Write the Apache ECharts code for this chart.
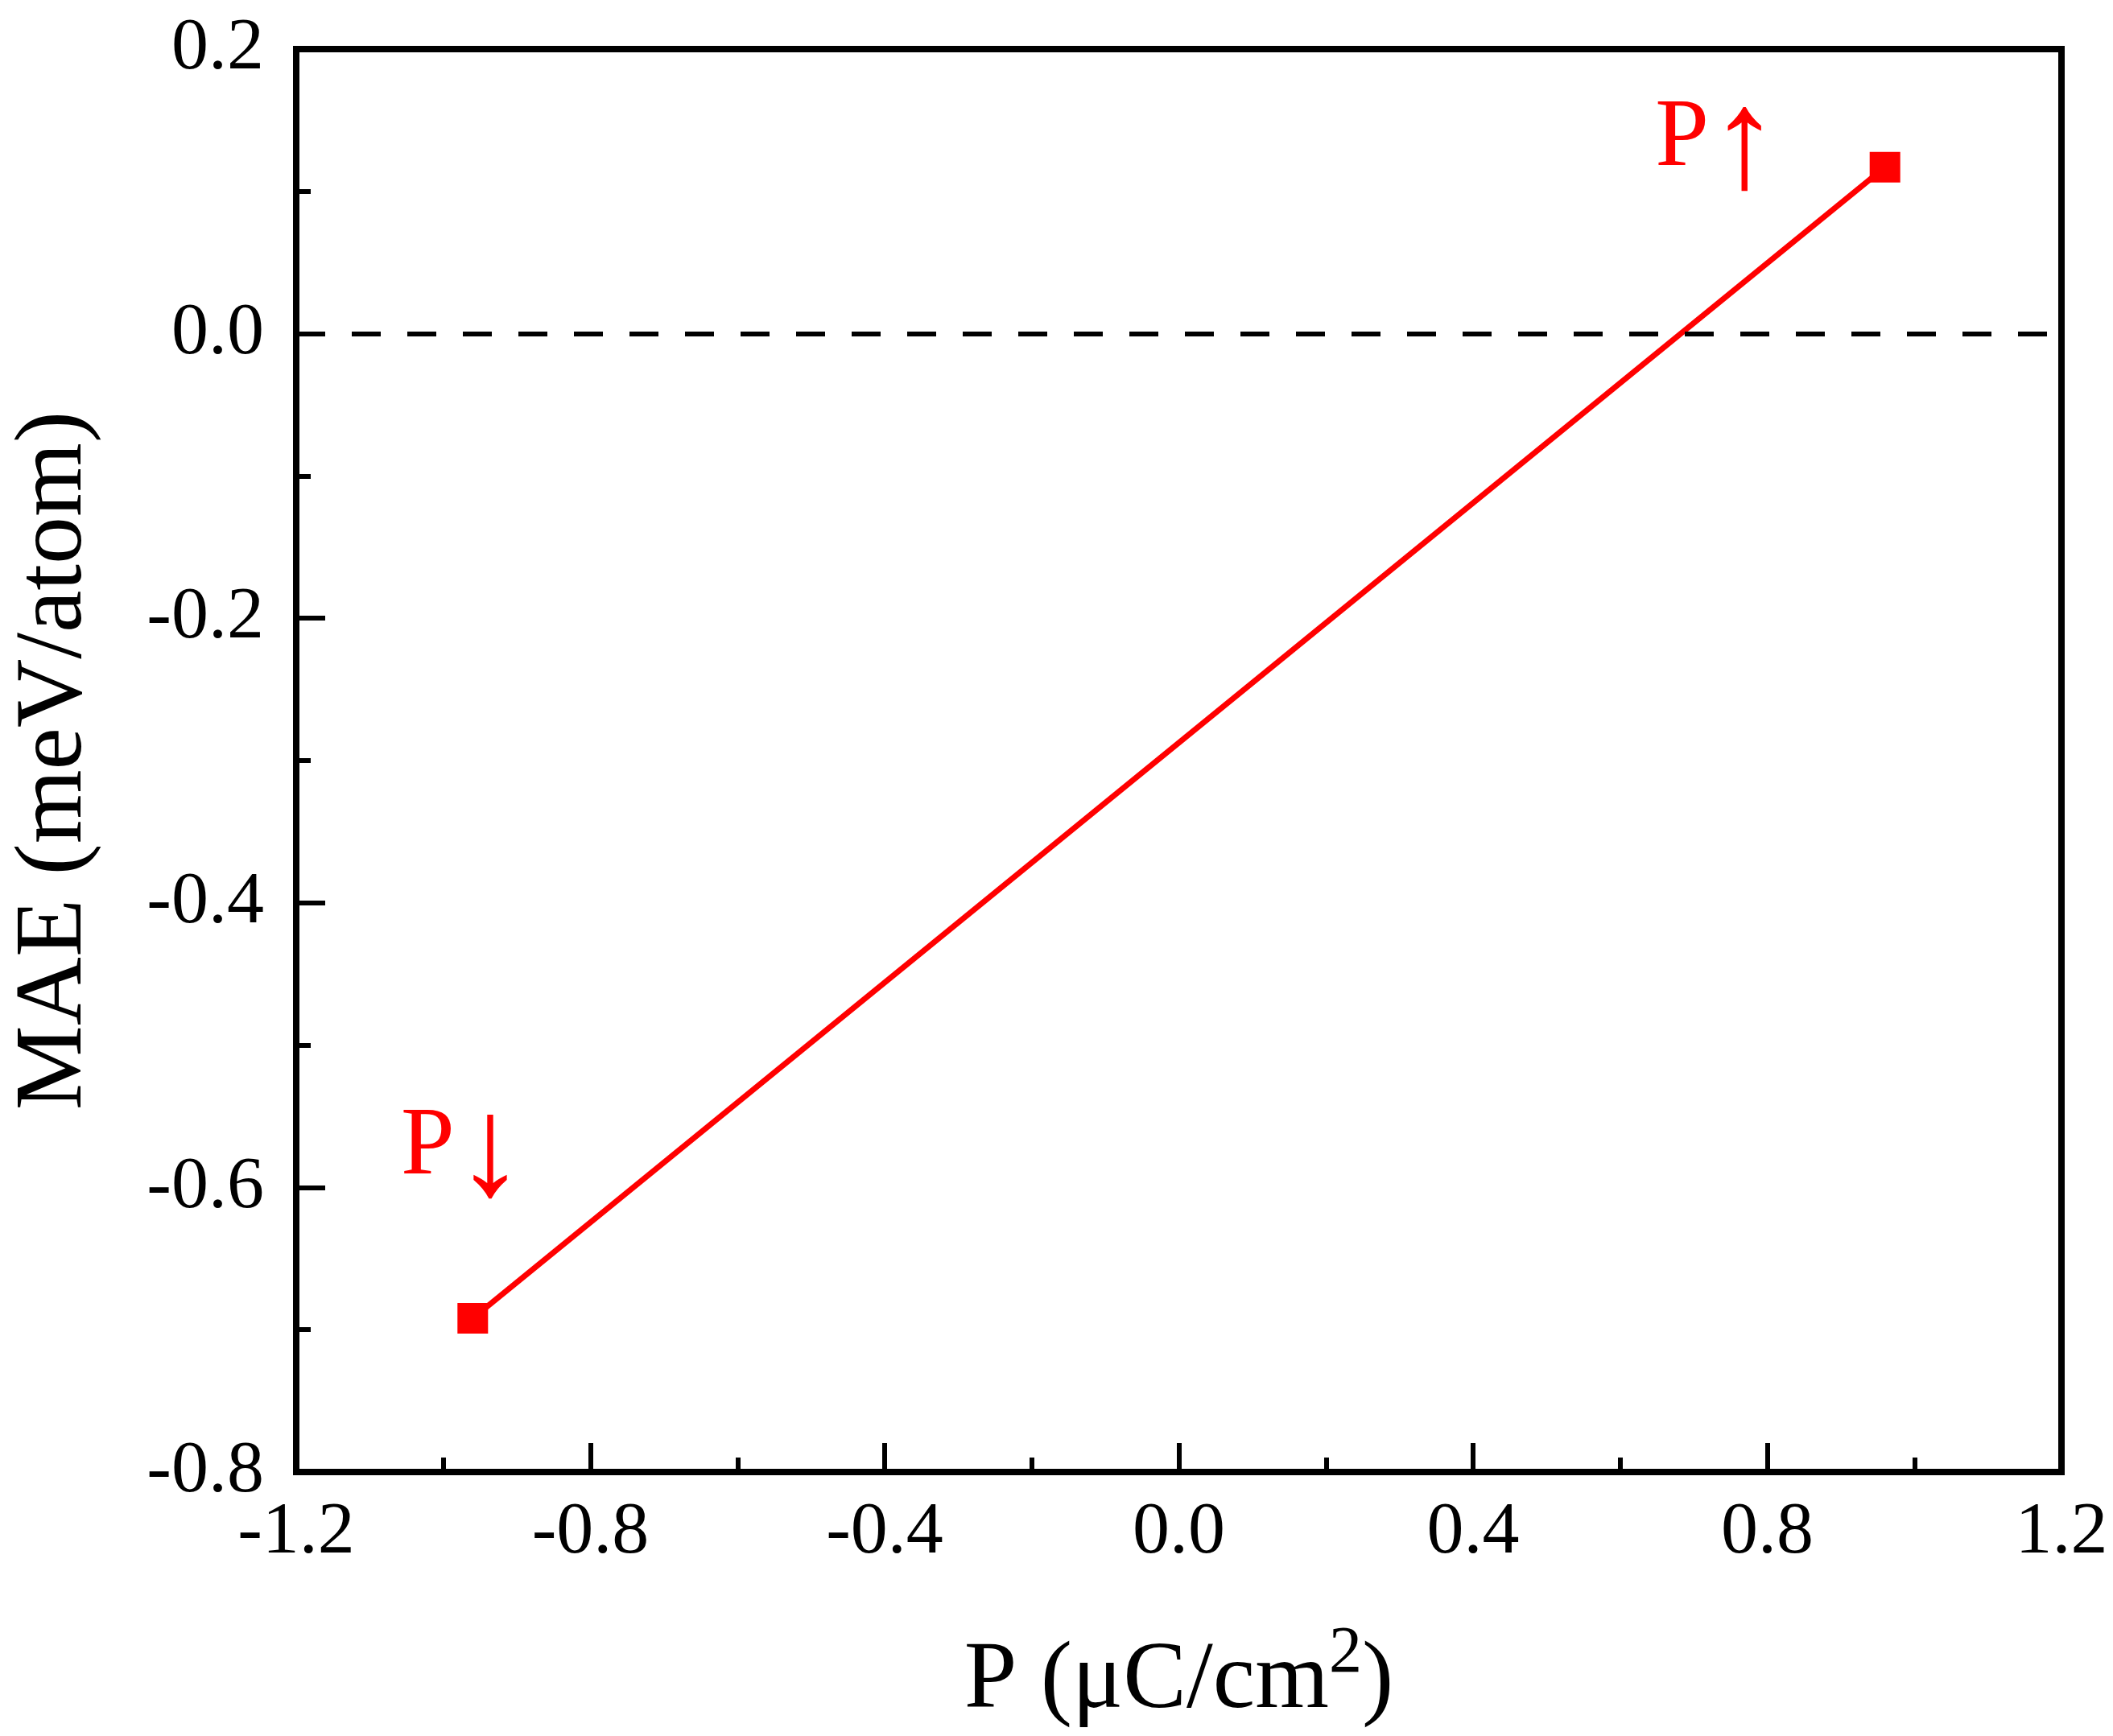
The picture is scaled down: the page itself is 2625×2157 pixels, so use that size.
<!DOCTYPE html>
<html>
<head>
<meta charset="utf-8">
<script src="https://cdn.jsdelivr.net/npm/echarts@6/dist/echarts.min.js"></script>
<style>html,body{margin:0;padding:0;background:#fff}#c{width:2625px;height:2157px}</style>
</head>
<body>
<div id="c"></div>
<script>
var xValues = [-0.96, 0.96];
var yValues = [-0.692, 0.117];
var pointLabels = ['{p|P}{a|\u2193}', '{p|P}{a|\u2191}'];
var xTicks = {min: -1.2, max: 1.2, interval: 0.4};
var yTicks = {min: -0.8, max: 0.2, interval: 0.2};
var xTitle = 'P (\u03bcC/cm{sup|2})';
var yTitle = 'MAE (meV/atom)';

var FONT = '"Liberation Serif", "Times New Roman", serif';
var labelOffsets = [[-12, -212], [-208, -34]];

var chart = echarts.init(document.getElementById('c'), null, {renderer: 'canvas'});
var data = xValues.map(function (x, i) {
  return {
    value: [x, yValues[i]],
    label: {show: true, formatter: pointLabels[i], offset: labelOffsets[i]}
  };
});
chart.setOption({
  animation: false,
  backgroundColor: '#fff',
  grid: {left: 368, right: 64, top: 61, bottom: 328, show: true, borderColor: '#000', borderWidth: 8, backgroundColor: 'transparent'},
  xAxis: {
    type: 'value', min: xTicks.min, max: xTicks.max, interval: xTicks.interval,
    name: xTitle, nameLocation: 'middle', nameGap: 185,
    nameTextStyle: {fontFamily: FONT, fontSize: 118, color: '#000',
      rich: {sup: {fontFamily: FONT, fontSize: 82, color: '#000', verticalAlign: 'top', padding: [0, 0, 70, 0]}}},
    axisLine: {show: true, onZero: false, lineStyle: {color: '#000', width: 8}},
    axisTick: {show: true, inside: true, length: 36, lineStyle: {color: '#000', width: 6}},
    minorTick: {show: true, splitNumber: 2, length: 18, lineStyle: {color: '#000', width: 6}},
    splitLine: {show: false},
    axisLabel: {fontFamily: FONT, fontSize: 92, color: '#000', margin: 30,
      formatter: function (v) { return v.toFixed(1); }}
  },
  yAxis: {
    type: 'value', min: yTicks.min, max: yTicks.max, interval: yTicks.interval,
    name: yTitle, nameLocation: 'middle', nameGap: 240,
    nameTextStyle: {fontFamily: FONT, fontSize: 118, color: '#000'},
    axisLine: {show: true, onZero: false, lineStyle: {color: '#000', width: 8}},
    axisTick: {show: true, inside: true, length: 36, lineStyle: {color: '#000', width: 6}},
    minorTick: {show: true, splitNumber: 2, length: 18, lineStyle: {color: '#000', width: 6}},
    splitLine: {show: false},
    axisLabel: {fontFamily: FONT, fontSize: 92, color: '#000', margin: 40,
      formatter: function (v) { return v.toFixed(1); }}
  },
  series: [{
    type: 'line',
    data: data,
    symbol: 'rect',
    symbolSize: 38,
    lineStyle: {color: '#ff0000', width: 7},
    itemStyle: {color: '#ff0000'},
    label: {position: 'inside', fontFamily: FONT, fontSize: 120, color: '#ff0000', align: 'center', verticalAlign: 'middle',
      rich: {
        p: {fontFamily: FONT, fontSize: 120, color: '#ff0000', verticalAlign: 'middle'},
        a: {fontFamily: FONT, fontSize: 176, color: '#ff0000', verticalAlign: 'middle', padding: [24, 0, 0, 0]}
      }},
    markLine: {
      silent: true, symbol: ['none', 'none'],
      label: {show: false},
      lineStyle: {color: '#000', width: 6, type: [36, 33]},
      data: [{yAxis: 0}]
    }
  }]
});
</script>
</body>
</html>
